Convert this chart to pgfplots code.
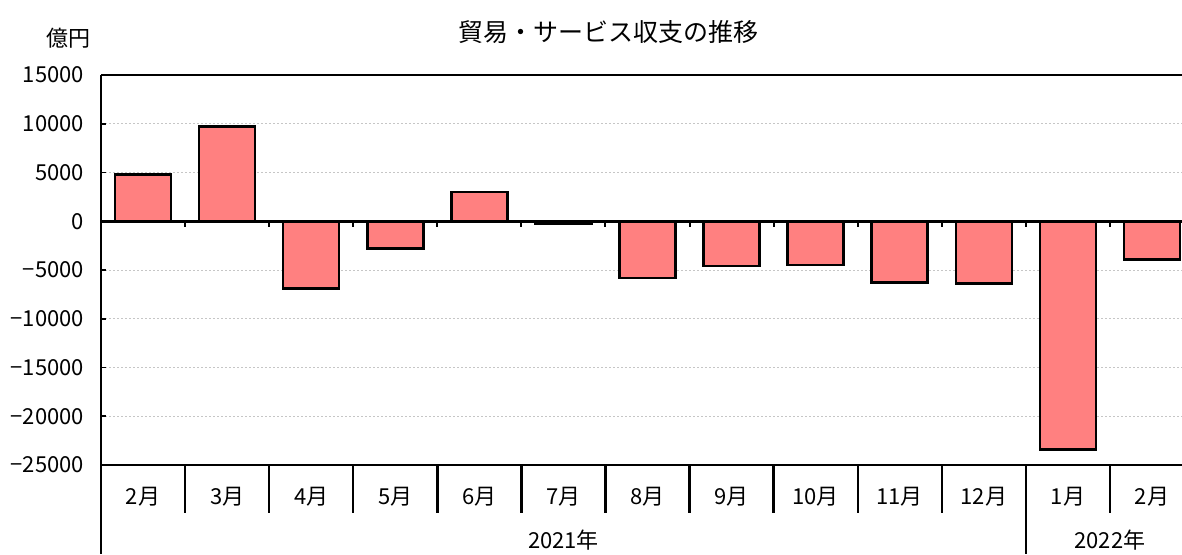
\documentclass[border=0pt]{standalone}
\usepackage{fontspec}
\setmainfont{Noto Sans CJK JP}
\usepackage{pgfplots}
\pgfplotsset{compat=1.18}
\definecolor{barfill}{HTML}{FF8080}
\begin{document}
\begin{tikzpicture}[x=1pt,y=1pt]
\useasboundingbox (0,0) rectangle (591,277);
\begin{axis}[
  at={(50.5pt,44.5pt)}, anchor=south west,
  scale only axis, width=546.5pt, height=195pt,
  xmin=-0.5, xmax=12.5, ymin=-25000, ymax=15000,
  axis x line*=bottom, axis y line*=left,
  axis line style={line width=1.2pt, -},
  clip=false,
  font=\fontsize{11}{13}\selectfont,
  scaled y ticks=false,
  ytick={-25000,-20000,-15000,-10000,-5000,0,5000,10000,15000},
  yticklabels={−25000,−20000,−15000,−10000,−5000,0,5000,10000,15000},
  ytick style={line width=0.8pt, black},
  tick align=inside, major tick length=2.5pt,
  yticklabel style={anchor=east, xshift=-5pt},
  xtick={0,1,2,3,4,5,6,7,8,9,10,11,12},
  xticklabels={2月,3月,4月,5月,6月,7月,8月,9月,10月,11月,12月,1月,2月},
  xtick style={draw=none},
  xticklabel style={anchor=center, yshift=-16pt},
  ymajorgrids,
  major grid style={gray!45, line width=0.4pt, dash pattern=on 1pt off 1pt},
  /pgf/number format/assume math mode=true,
]
\addplot[ybar, bar width=0.666, fill=barfill, draw=black, line width=1.3pt]
  coordinates {(0,4800) (1,9700) (2,-6900) (3,-2800) (4,3000) (5,-200) (6,-5800)
               (7,-4600) (8,-4500) (9,-6300) (10,-6400) (11,-23400) (12,-3900)};
\draw[line width=1.2pt] (rel axis cs:0,1) -- (rel axis cs:1,1);
\draw[line width=1.2pt] (rel axis cs:0,0) -- ++(0pt,-44.5pt);
\draw[line width=1.4pt] (axis cs:-0.5,0) -- (axis cs:12.5,0);
\draw[line width=1pt] (axis cs:0.5,0) -- ++(0pt,-3pt);
\draw[line width=1pt] (axis cs:1.5,0) -- ++(0pt,-3pt);
\draw[line width=1pt] (axis cs:2.5,0) -- ++(0pt,-3pt);
\draw[line width=1pt] (axis cs:3.5,0) -- ++(0pt,-3pt);
\draw[line width=1pt] (axis cs:4.5,0) -- ++(0pt,-3pt);
\draw[line width=1pt] (axis cs:5.5,0) -- ++(0pt,-3pt);
\draw[line width=1pt] (axis cs:6.5,0) -- ++(0pt,-3pt);
\draw[line width=1pt] (axis cs:7.5,0) -- ++(0pt,-3pt);
\draw[line width=1pt] (axis cs:8.5,0) -- ++(0pt,-3pt);
\draw[line width=1pt] (axis cs:9.5,0) -- ++(0pt,-3pt);
\draw[line width=1pt] (axis cs:10.5,0) -- ++(0pt,-3pt);
\draw[line width=1pt] (axis cs:11.5,0) -- ++(0pt,-3pt);
\draw[line width=1.2pt] (axis cs:0.5,-25000) -- ++(0pt,-24pt);
\draw[line width=1.2pt] (axis cs:1.5,-25000) -- ++(0pt,-24pt);
\draw[line width=1.2pt] (axis cs:2.5,-25000) -- ++(0pt,-24pt);
\draw[line width=1.2pt] (axis cs:3.5,-25000) -- ++(0pt,-24pt);
\draw[line width=1.2pt] (axis cs:4.5,-25000) -- ++(0pt,-24pt);
\draw[line width=1.2pt] (axis cs:5.5,-25000) -- ++(0pt,-24pt);
\draw[line width=1.2pt] (axis cs:6.5,-25000) -- ++(0pt,-24pt);
\draw[line width=1.2pt] (axis cs:7.5,-25000) -- ++(0pt,-24pt);
\draw[line width=1.2pt] (axis cs:8.5,-25000) -- ++(0pt,-24pt);
\draw[line width=1.2pt] (axis cs:9.5,-25000) -- ++(0pt,-24pt);
\draw[line width=1.2pt] (axis cs:10.5,-25000) -- ++(0pt,-44.5pt);
\draw[line width=1.2pt] (axis cs:11.5,-25000) -- ++(0pt,-24pt);
\node[font=\fontsize{11}{13}\selectfont] at ([yshift=-37.5pt]axis cs:5,-25000) {2021年};
\node[font=\fontsize{11}{13}\selectfont] at ([yshift=-37.5pt]axis cs:11.5,-25000) {2022年};
\end{axis}
\node[font=\fontsize{12.5}{15}\selectfont] at (304,261) {貿易・サービス収支の推移};
\node[font=\fontsize{11}{13}\selectfont] at (34,258) {億円};
\end{tikzpicture}
\end{document}
